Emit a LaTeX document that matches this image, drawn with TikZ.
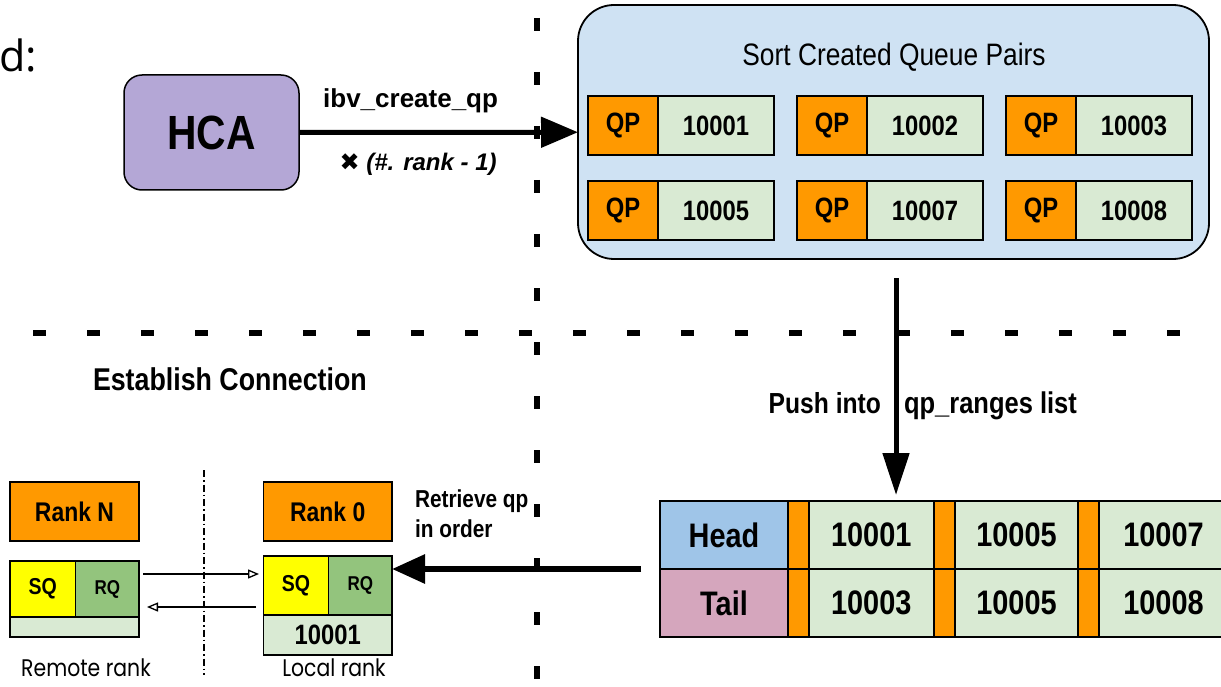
\documentclass[tikz,border=0pt]{standalone}
\usepackage{fontspec}
\setmainfont{Liberation Sans}
\newfontfamily\cond[FakeStretch=0.85]{Liberation Sans}
\newfontfamily\dfont{Open Sans}
\newfontfamily\rfont[FakeStretch=0.85]{Poppins}
\newfontfamily\symfont{DejaVu Sans}
\usetikzlibrary{arrows.meta}
\definecolor{hcafill}{HTML}{B4A7D6}
\definecolor{sortfill}{HTML}{CFE2F3}
\definecolor{qporange}{HTML}{FF9900}
\definecolor{lgreen}{HTML}{D9EAD3}
\definecolor{headblue}{HTML}{9FC5E8}
\definecolor{tailpink}{HTML}{D5A6BD}
\definecolor{sqyellow}{HTML}{FFFF00}
\definecolor{rqgreen}{HTML}{93C47D}
\newcommand{\fs}[1]{\fontsize{#1}{#1}\selectfont}
\begin{document}
\begin{tikzpicture}[x=1pt,y=-1pt,
  box/.style={draw=black, line width=1.5pt, inner sep=0pt, outer sep=0pt, anchor=north west, font=\cond\bfseries\fs{28}},
  tbox/.style={box, line width=2pt, minimum height=68pt, font=\cond\bfseries\fs{34}},
  lbl/.style={inner sep=0pt, outer sep=0pt, font=\bfseries\fs{26}},
  sep/.style={line width=5.5pt, dash pattern=on 13pt off 41pt},
  bigarrow/.style={line width=5pt, -{Triangle[length=37pt,width=30pt]}},
  downarrow/.style={line width=5pt, -{Triangle[length=42pt,width=26pt]}},
  leftarrow/.style={line width=6pt, -{Triangle[length=33pt,width=28pt]}},
  thinarrow/.style={line width=1.3pt, -{Triangle[open, fill=white, length=11pt, width=9pt, line width=1.3pt]}},
  dashdot/.style={line width=1.2pt, dash pattern=on 7pt off 3pt on 1.5pt off 3pt}]
\useasboundingbox (0,0) rectangle (1221,687);

% separators
\coordinate (v1) at (537,18);
\coordinate (v2) at (537,700);
\coordinate (h1) at (33,333);
\coordinate (h2) at (1240,333);
\draw[sep] (v1) -- (v2);
\draw[sep] (h1) -- (h2);

% d:
\node[inner sep=0pt, anchor=base west, font=\dfont\fs{43}] (dlab) at (-1,72) {d:};

% HCA
\node[box, fill=hcafill, rounded corners=18pt, minimum width=175pt, minimum height=115pt, font=\cond\bfseries\fs{48}] (hca) at (124,75) {HCA};

% sort box
\node[box, line width=1.8pt, fill=sortfill, rounded corners=36pt, minimum width=631pt, minimum height=254pt] (sortbox) at (578,5) {};
\node[lbl, font=\cond\fs{31}] (sorttitle) at (894,57) {Sort Created Queue Pairs};

\foreach \i/\x/\y/\n in {1/588/96/10001, 2/797/96/10002, 3/1006/96/10003, 4/588/181/10005, 5/797/181/10007, 6/1006/181/10008} {
  \node[box, fill=qporange, minimum width=70pt, minimum height=59pt] (qp\i) at (\x,\y) {QP};
  \node[box, fill=lgreen, minimum width=116pt, minimum height=59pt, anchor=west] (id\i) at (qp\i.east) {\n};
}

% HCA arrow
\draw[bigarrow] (hca) -- node[pos=0.4, lbl, anchor=base, yshift=25pt] (ibv) {ibv\_create\_qp}
  node[pos=0.427, lbl, anchor=base, yshift=-38pt, font=\bfseries\itshape\fs{24}] (times) {{\symfont\bfseries\upshape ✖}~(\#. rank - 1)} (sortbox);

% qp_ranges table
\node[tbox, fill=headblue, minimum width=128pt] (head) at (660,501) {Head};
\node[tbox, fill=qporange, minimum width=20.5pt, anchor=west] (hs1) at (head.east) {};
\node[tbox, fill=lgreen, minimum width=125.5pt, anchor=west] (hc1) at (hs1.east) {10001};
\node[tbox, fill=qporange, minimum width=21pt, anchor=west] (hs2) at (hc1.east) {};
\node[tbox, fill=lgreen, minimum width=123pt, anchor=west] (hc2) at (hs2.east) {10005};
\node[tbox, fill=qporange, minimum width=20.5pt, anchor=west] (hs3) at (hc2.east) {};
\node[tbox, fill=lgreen, minimum width=130pt, anchor=west] (hc3) at (hs3.east) {10007};

\node[tbox, fill=tailpink, minimum width=128pt] (tail) at (660,569) {Tail};
\node[tbox, fill=qporange, minimum width=20.5pt, anchor=west] (ts1) at (tail.east) {};
\node[tbox, fill=lgreen, minimum width=125.5pt, anchor=west] (tc1) at (ts1.east) {10003};
\node[tbox, fill=qporange, minimum width=21pt, anchor=west] (ts2) at (tc1.east) {};
\node[tbox, fill=lgreen, minimum width=123pt, anchor=west] (tc2) at (ts2.east) {10005};
\node[tbox, fill=qporange, minimum width=20.5pt, anchor=west] (ts3) at (tc2.east) {};
\node[tbox, fill=lgreen, minimum width=130pt, anchor=west] (tc3) at (ts3.east) {10008};

% push arrow
\draw[downarrow, shorten <=19pt, shorten >=6pt] ([xshift=2.5pt]sortbox.south) -- ([xshift=2.5pt]sortbox.south |- hc1.north);
\node[lbl, anchor=base east, font=\cond\bfseries\fs{29}] (push) at (881,413) {Push into};
\node[lbl, anchor=base west, font=\cond\bfseries\fs{30}] (qpr) at (904,413) {qp\_ranges list};

% establish connection
\node[lbl, anchor=base west, font=\cond\bfseries\fs{31.5}] (estab) at (93,390) {Establish Connection};

% ranks
\node[box, fill=qporange, minimum width=129pt, minimum height=59pt, font=\cond\bfseries\fs{27}] (rankN) at (10,482) {Rank N};
\node[box, fill=qporange, minimum width=128.5pt, minimum height=59pt, font=\cond\bfseries\fs{27}] (rank0) at (263.5,482) {Rank 0};

\node[box, fill=sqyellow, minimum width=65pt, minimum height=59pt, font=\cond\bfseries\fs{23}] (sq0) at (263.5,556) {SQ};
\node[box, fill=rqgreen, minimum width=63.5pt, minimum height=59pt, font=\cond\bfseries\fs{20}] (rq0) at (328.5,556) {RQ};
\node[box, fill=lgreen, minimum width=128.5pt, minimum height=40pt, font=\cond\bfseries\fs{28}] (id0) at (263.5,615) {10001};

\node[box, fill=sqyellow, minimum width=65.5pt, minimum height=56pt, font=\cond\bfseries\fs{23}] (sqN) at (10,561) {SQ};
\node[box, fill=rqgreen, minimum width=63.5pt, minimum height=56pt, font=\cond\bfseries\fs{20}] (rqN) at (75.5,561) {RQ};
\node[box, fill=lgreen, minimum width=129pt, minimum height=20pt] (idN) at (10,617) {};

% retrieve arrow
\draw[leftarrow, shorten <=19pt] (head.south west) -- (head.south west -| rq0.east);
\node[lbl, anchor=north west, align=left, font=\cond\bfseries\fontsize{24.5}{30}\selectfont] (retr) at (415,490) {Retrieve qp\\in order};

% exchange arrows
\draw[thinarrow, shorten <=4pt, shorten >=4.5pt] ([yshift=15pt]rqN.east) -- ([yshift=15pt]rqN.east -| sq0.west);
\draw[thinarrow, shorten <=7.5pt, shorten >=8pt] ([yshift=-18pt]rqN.east -| sq0.west) -- ([yshift=-18pt]rqN.east);

% dash-dot divider
\coordinate (dd1) at (204,470);
\coordinate (dd2) at (204,675);
\draw[dashdot] (dd1) -- (dd2);

% rank captions
\node[inner sep=0pt, anchor=north, font=\rfont\fs{24}] (remote) at (86,659) {Remote rank};
\node[inner sep=0pt, anchor=north, font=\rfont\fs{24}] (local) at (334,659) {Local rank};
\end{tikzpicture}
\end{document}
